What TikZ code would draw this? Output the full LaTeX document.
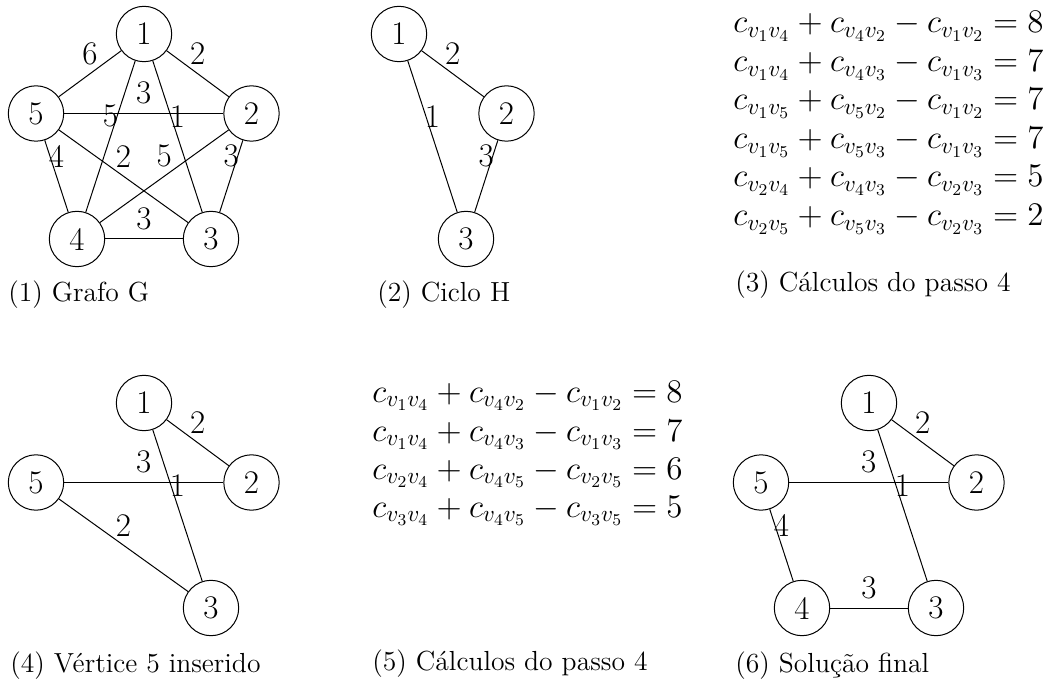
\RequirePackage{fix-cm}
\documentclass[tikz,border=0pt]{standalone}
\usepackage{amsmath}
\begin{document}
\begin{tikzpicture}[x=0.5pt,y=-0.5pt,
  vtx/.style={circle,draw,line width=0.5pt,minimum size=27.7pt,inner sep=0pt,font=\fontsize{16.5}{19}\selectfont},
  edge/.style={line width=0.5pt},
  wlab/.style={above,inner sep=4.3pt,font=\fontsize{16.5}{19}\selectfont},
  captxt/.style={anchor=base west,inner sep=0pt,font=\fontsize{13.8}{16}\selectfont},
  eqline/.style={anchor=base west,inner sep=0pt,font=\fontsize{16.5}{19}\selectfont}]
\useasboundingbox (0,0) rectangle (1050,684);
% (1) Grafo G
\begin{scope}[shift={(144,34)}]
  \node[vtx] (a1) at (0,0) {1};
  \node[vtx] (a5) at (-108,79.5) {5};
  \node[vtx] (a2) at (107.5,79.5) {2};
  \node[vtx] (a4) at (-67,205) {4};
  \node[vtx] (a3) at (67,205) {3};
\end{scope}
\draw[edge] (a1) -- node[wlab]{6} (a5);
\draw[edge] (a1) -- node[wlab]{2} (a2);
\draw[edge] (a1) -- node[wlab]{5} (a4);
\draw[edge] (a1) -- node[wlab]{1} (a3);
\draw[edge] (a5) -- node[wlab]{3} (a2);
\draw[edge] (a5) -- node[wlab]{4} (a4);
\draw[edge] (a5) -- node[wlab]{2} (a3);
\draw[edge] (a2) -- node[wlab]{5} (a4);
\draw[edge] (a2) -- node[wlab]{3} (a3);
\draw[edge] (a4) -- node[wlab]{3} (a3);
\node[captxt] (c1) at (8,302) {(1) Grafo G};
% (2) Ciclo H
\begin{scope}[shift={(399,34)}]
  \node[vtx] (b1) at (0,0) {1};
  \node[vtx] (b2) at (107.5,79.5) {2};
  \node[vtx] (b3) at (67,205) {3};
\end{scope}
\draw[edge] (b1) -- node[wlab]{2} (b2);
\draw[edge] (b1) -- node[wlab]{1} (b3);
\draw[edge] (b2) -- node[wlab]{3} (b3);
\node[captxt] (c2) at (377,302) {(2) Ciclo H};
% (3) equations
\node[eqline] (e31) at (733,33) {$c_{v_1v_4}+c_{v_4v_2}-c_{v_1v_2}=8$};
\node[eqline] (e32) at (733,72) {$c_{v_1v_4}+c_{v_4v_3}-c_{v_1v_3}=7$};
\node[eqline] (e33) at (733,110) {$c_{v_1v_5}+c_{v_5v_2}-c_{v_1v_2}=7$};
\node[eqline] (e34) at (733,149) {$c_{v_1v_5}+c_{v_5v_3}-c_{v_1v_3}=7$};
\node[eqline] (e35) at (733,187) {$c_{v_2v_4}+c_{v_4v_3}-c_{v_2v_3}=5$};
\node[eqline] (e36) at (733,226) {$c_{v_2v_5}+c_{v_5v_3}-c_{v_2v_3}=2$};
\node[captxt] (c3) at (735,292) {(3) Cálculos do passo 4};
% (4) Vertice 5 inserido
\begin{scope}[shift={(144,403)}]
  \node[vtx] (d1) at (0,0) {1};
  \node[vtx] (d5) at (-108,79.5) {5};
  \node[vtx] (d2) at (107.5,79.5) {2};
  \node[vtx] (d3) at (67,205) {3};
\end{scope}
\draw[edge] (d1) -- node[wlab]{2} (d2);
\draw[edge] (d1) -- node[wlab]{1} (d3);
\draw[edge] (d5) -- node[wlab]{3} (d2);
\draw[edge] (d5) -- node[wlab]{2} (d3);
\node[captxt] (c4) at (10,672) {(4) Vértice 5 inserido};
% (5) equations
\node[eqline] (e51) at (372,402) {$c_{v_1v_4}+c_{v_4v_2}-c_{v_1v_2}=8$};
\node[eqline] (e52) at (372,441) {$c_{v_1v_4}+c_{v_4v_3}-c_{v_1v_3}=7$};
\node[eqline] (e53) at (372,479) {$c_{v_2v_4}+c_{v_4v_5}-c_{v_2v_5}=6$};
\node[eqline] (e54) at (372,517) {$c_{v_3v_4}+c_{v_4v_5}-c_{v_3v_5}=5$};
\node[captxt] (c5) at (372,670) {(5) Cálculos do passo 4};
% (6) Solucao final
\begin{scope}[shift={(869,403)}]
  \node[vtx] (f1) at (0,0) {1};
  \node[vtx] (f5) at (-108,79.5) {5};
  \node[vtx] (f2) at (107.5,79.5) {2};
  \node[vtx] (f4) at (-67,205) {4};
  \node[vtx] (f3) at (67,205) {3};
\end{scope}
\draw[edge] (f1) -- node[wlab]{2} (f2);
\draw[edge] (f1) -- node[wlab]{1} (f3);
\draw[edge] (f5) -- node[wlab]{3} (f2);
\draw[edge] (f5) -- node[wlab]{4} (f4);
\draw[edge] (f4) -- node[wlab]{3} (f3);
\node[captxt] (c6) at (735,672) {(6) Solução final};
\end{tikzpicture}
\end{document}
